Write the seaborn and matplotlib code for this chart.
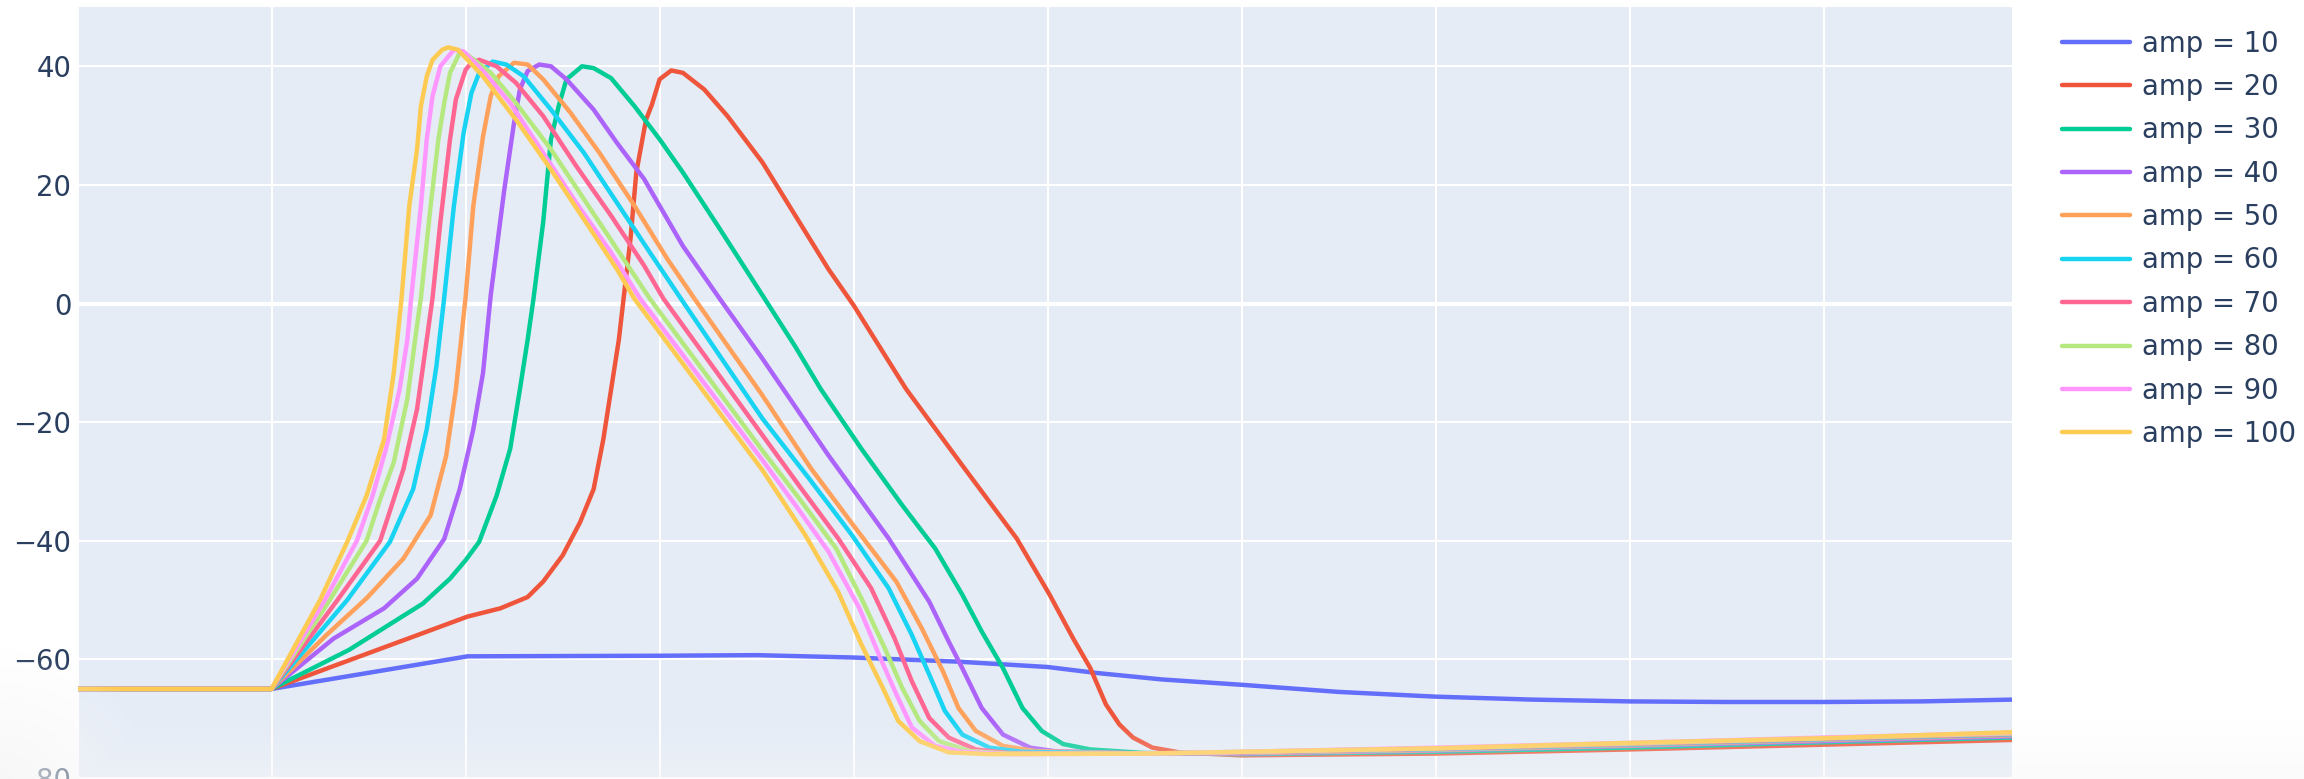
import matplotlib
matplotlib.use("Agg")
import matplotlib.pyplot as plt
import numpy as np
import pandas as pd
import seaborn as sns

# Membrane potential (mV) over time (ms) for a range of stimulus amplitudes
amplitudes = [10, 20, 30, 40, 50, 60, 70, 80, 90, 100]
colors = ["#636EFA", "#EF553B", "#00CC96", "#AB63FA", "#FFA15A",
          "#19D3F3", "#FF6692", "#B6E880", "#FF97FF", "#FECB52"]

t_amp10 = [0, 1, 2.01, 2.5, 3.0, 3.5, 4.0, 4.54, 5.0, 5.25, 5.59, 6.0, 6.5, 7.0,
           7.5, 8.0, 8.5, 9.0, 9.5, 9.97]
v_amp10 = [-65.0, -65.0, -59.5, -59.45, -59.4, -59.3, -59.7, -60.4, -61.3, -62.3,
           -63.4, -64.3, -65.5, -66.3, -66.8, -67.1, -67.2, -67.2, -67.1, -66.8]

t_amp20 = [0, 1, 2.01, 2.18, 2.32, 2.40, 2.50, 2.59, 2.66, 2.71, 2.75, 2.79, 2.82,
           2.85, 2.88, 2.93, 2.96, 3.00, 3.06, 3.12, 3.23, 3.35, 3.53, 3.70, 3.87,
           4.00, 4.13, 4.27, 4.56, 4.84, 5.01, 5.13, 5.22, 5.30, 5.37, 5.44, 5.54,
           5.68, 6.0, 7.0, 8.0, 9.0, 9.97]
v_amp20 = [-65.0, -65.0, -52.8, -51.4, -49.5, -46.9, -42.5, -36.9, -31.3, -22.9,
           -14.5, -6.1, 2.4, 10.9, 22.1, 31.0, 33.5, 37.8, 39.3, 38.9, 36.1, 31.6,
           23.8, 14.8, 5.8, -0.3, -7.1, -14.4, -27.3, -39.6, -49.1, -56.4, -61.5,
           -67.6, -71.0, -73.2, -74.9, -75.7, -76.2, -75.9, -75.2, -74.4, -73.6]

t_amp30 = [0, 1, 1.40, 1.78, 1.92, 2.0, 2.07, 2.16, 2.23, 2.28, 2.32, 2.35, 2.40,
           2.44, 2.48, 2.52, 2.60, 2.66, 2.75, 2.87, 3.00, 3.12, 3.30, 3.52, 3.70,
           3.83, 4.04, 4.25, 4.42, 4.56, 4.66, 4.77, 4.87, 4.97, 5.08, 5.22, 5.5,
           6.0, 7.0, 8.0, 9.0, 9.97]
v_amp30 = [-65.0, -65.0, -58.4, -50.6, -46.4, -43.3, -40.2, -32.4, -24.5, -14.5,
           -6.1, 0.8, 13.7, 27.7, 33.3, 37.8, 40.0, 39.7, 38.0, 33.3, 27.7, 22.1,
           13.1, 1.9, -7.3, -14.4, -24.5, -34.0, -41.3, -49.1, -55.3, -61.5, -68.2,
           -72.1, -74.3, -75.2, -75.8, -76.0, -75.6, -74.9, -74.0, -73.2]

t_amp40 = [0, 1, 1.32, 1.58, 1.75, 1.89, 1.97, 2.04, 2.09, 2.13, 2.20, 2.25, 2.28,
           2.32, 2.38, 2.44, 2.52, 2.66, 2.78, 2.92, 3.12, 3.31, 3.53, 3.67, 3.87,
           4.18, 4.39, 4.49, 4.56, 4.66, 4.77, 4.91, 5.04, 5.5, 6.0, 7.0, 8.0, 9.0,
           9.97]
v_amp40 = [-65.0, -65.0, -56.5, -51.4, -46.4, -39.7, -31.3, -21.2, -11.7, 1.5,
           19.3, 30.5, 36.1, 39.2, 40.3, 40.0, 37.8, 32.7, 27.1, 21.0, 9.7, 0.8,
           -9.3, -16.0, -25.6, -39.6, -50.3, -57.0, -61.5, -68.2, -72.7, -74.9,
           -75.5, -75.9, -75.9, -75.4, -74.6, -73.8, -73.0]

t_amp50 = [0, 1, 1.28, 1.49, 1.68, 1.82, 1.90, 1.95, 2.00, 2.04, 2.09, 2.13, 2.17,
           2.25, 2.32, 2.40, 2.54, 2.69, 2.87, 3.04, 3.18, 3.53, 3.78, 4.01, 4.22,
           4.35, 4.46, 4.54, 4.63, 4.77, 4.94, 5.5, 6.0, 7.0, 8.0, 9.0, 9.97]
v_amp50 = [-65.0, -65.0, -56.0, -49.7, -43.0, -35.7, -25.7, -14.5, 1.0, 16.5,
           28.2, 35.0, 38.3, 40.6, 40.3, 37.8, 32.2, 25.4, 16.5, 7.5, 0.8, -15.5,
           -27.8, -37.9, -46.9, -54.7, -62.0, -68.2, -72.1, -74.6, -75.5, -75.9,
           -75.8, -75.3, -74.5, -73.6, -72.8]

t_amp60 = [0, 1, 1.39, 1.61, 1.73, 1.80, 1.85, 1.89, 1.94, 1.99, 2.03, 2.07, 2.14,
           2.21, 2.30, 2.44, 2.61, 2.78, 2.95, 3.11, 3.53, 3.77, 3.99, 4.18, 4.30,
           4.39, 4.47, 4.56, 4.70, 4.87, 5.5, 6.0, 7.0, 8.0, 9.0, 9.97]
v_amp60 = [-65.0, -65.0, -50.0, -40.2, -31.3, -21.2, -10.5, 1.0, 16.5, 28.8,
           35.5, 38.9, 40.8, 40.3, 38.3, 32.7, 25.4, 17.0, 8.6, 0.8, -19.4, -29.5,
           -39.0, -48.0, -55.9, -62.6, -68.7, -72.7, -74.9, -75.6, -75.9, -75.7,
           -75.2, -74.4, -73.5, -72.7]

t_amp70 = [0, 1, 1.34, 1.56, 1.62, 1.68, 1.75, 1.80, 1.83, 1.87, 1.92, 1.95, 2.00,
           2.03, 2.07, 2.16, 2.26, 2.40, 2.57, 2.75, 2.92, 3.02, 3.53, 3.73, 3.92,
           4.09, 4.21, 4.30, 4.39, 4.49, 4.63, 4.8, 5.5, 6.0, 7.0, 8.0, 9.0, 9.97]
v_amp70 = [-65.0, -65.0, -50.0, -40.0, -34.0, -27.9, -17.8, -6.1, 1.0, 13.7,
           27.7, 34.4, 39.4, 40.6, 41.1, 40.0, 37.2, 31.6, 23.2, 14.8, 6.4, 0.8,
           -22.2, -31.2, -39.6, -48.0, -56.4, -63.7, -69.9, -73.2, -75.2, -75.8,
           -75.9, -75.7, -75.1, -74.3, -73.4, -72.6]

t_amp80 = [0, 1, 1.30, 1.49, 1.56, 1.63, 1.70, 1.74, 1.77, 1.82, 1.86, 1.89, 1.92,
           1.97, 2.02, 2.13, 2.26, 2.44, 2.61, 2.78, 2.95, 3.53, 3.72, 3.91, 4.04,
           4.16, 4.25, 4.34, 4.44, 4.60, 4.8, 5.5, 6.0, 7.0, 8.0, 9.0, 9.97]
v_amp80 = [-65.0, -65.0, -50.0, -40.0, -33.0, -26.8, -16.1, -6.1, 1.0, 16.5,
           27.7, 33.8, 38.9, 42.3, 41.7, 38.9, 33.8, 26.0, 17.6, 9.2, 0.8, -24.8,
           -32.9, -41.3, -49.7, -58.1, -64.8, -70.4, -73.8, -75.5, -75.9, -75.9,
           -75.6, -75.0, -74.2, -73.3, -72.5]

t_amp90 = [0, 1, 1.275, 1.44, 1.52, 1.59, 1.66, 1.70, 1.72, 1.77, 1.80, 1.83, 1.87,
           1.94, 1.99, 2.09, 2.23, 2.40, 2.57, 2.75, 2.90, 3.53, 3.70, 3.87, 4.03,
           4.13, 4.22, 4.30, 4.42, 4.56, 4.8, 5.5, 6.0, 7.0, 8.0, 9.0, 9.97]
v_amp90 = [-65.0, -65.0, -50.0, -40.0, -32.5, -24.5, -14.5, -6.1, 1.0, 16.5,
           27.7, 35.0, 40.0, 42.8, 42.5, 39.2, 33.8, 25.4, 17.0, 8.6, 0.8, -26.4,
           -34.0, -41.8, -51.4, -59.2, -65.9, -71.5, -74.6, -75.6, -76.0, -75.9,
           -75.6, -74.9, -74.1, -73.2, -72.4]

t_amp100 = [0, 1, 1.25, 1.39, 1.49, 1.58, 1.63, 1.67, 1.71, 1.75, 1.77, 1.80, 1.83,
            1.88, 1.91, 1.96, 2.01, 2.09, 2.26, 2.44, 2.61, 2.78, 2.87, 3.53, 3.75,
            3.92, 4.04, 4.15, 4.23, 4.34, 4.49, 4.70, 5.5, 6.0, 7.0, 8.0, 9.0, 9.97]
v_amp100 = [-65.0, -65.0, -50.0, -40.2, -32.4, -22.9, -11.7, 0.8, 16.5, 26.0,
            33.3, 38.3, 41.1, 42.8, 43.2, 42.8, 41.1, 38.3, 31.0, 22.6, 14.2, 5.8,
            0.8, -28.1, -39.0, -48.6, -57.5, -64.8, -70.4, -73.8, -75.7, -76.0,
            -75.9, -75.6, -75.0, -74.1, -73.3, -72.3]

y_ticks = [-80, -60, -40, -20, 0, 20, 40]
x_ticks = [0, 1, 2, 3, 4, 5, 6, 7, 8, 9]

times = [t_amp10, t_amp20, t_amp30, t_amp40, t_amp50,
         t_amp60, t_amp70, t_amp80, t_amp90, t_amp100]
volts = [v_amp10, v_amp20, v_amp30, v_amp40, v_amp50,
         v_amp60, v_amp70, v_amp80, v_amp90, v_amp100]
labels = [f"amp = {a}" for a in amplitudes]

df = pd.concat(
    [pd.DataFrame({"t": t, "v": v, "trace": lab})
     for t, v, lab in zip(times, volts, labels)],
    ignore_index=True,
)

TEXT = "#2a3f5f"
PLOT_BG = "#E5ECF6"
LW = 3.2

sns.set_style("white")
plt.rcParams["font.family"] = ["DejaVu Sans"]

W, H = 2304, 779
fig = plt.figure(figsize=(W / 100, H / 100), dpi=100, facecolor="white")

# axes placement in pixels: x 77.5..2012, y(50)=7, y(-90)=837 (below the canvas)
left, right = 77.5, 2012.0
top_px, bot_px = 7.0, 837.2
ax = fig.add_axes([left / W, 1 - bot_px / H, (right - left) / W, (bot_px - top_px) / H])
ax.set_facecolor(PLOT_BG)

sns.lineplot(data=df, x="t", y="v", hue="trace", hue_order=labels,
             palette=colors, estimator=None, sort=False, linewidth=LW,
             solid_joinstyle="round", solid_capstyle="round", ax=ax)

ax.set_xlim(0, 9.97)
ax.set_ylim(-90, 50)
ax.set_xticks(x_ticks)
ax.set_yticks(y_ticks)
ax.set_xticklabels([])
ax.set_xlabel("")
ax.set_ylabel("")
ax.grid(True, color="white", linewidth=1.5)
ax.set_axisbelow(True)
ax.axhline(0, color="white", linewidth=3.0, zorder=0.8)
for s in ax.spines.values():
    s.set_visible(False)
ax.tick_params(axis="both", length=0, pad=4.5, labelsize=19.8, labelcolor=TEXT)

handles, labs = ax.get_legend_handles_labels()
ax.get_legend().remove()
leg = fig.legend(handles, labs, loc="upper left", bbox_to_anchor=(2061.7 / W, 1 - 29.5 / H),
                 frameon=False, fontsize=19.8, handlelength=2.5, handletextpad=0.41,
                 labelspacing=0.56, borderpad=0, borderaxespad=0, labelcolor=TEXT)
for ln in leg.get_lines():
    ln.set_linewidth(LW)

# soft light wash along the bottom edge and in the lower-left corner
yy, xx = np.mgrid[0:H, 0:W].astype(float)
band = np.clip((yy - 720.0) / 59.0, 0, 1) * 0.45
corner = np.clip(1.0 - np.hypot(xx / 170.0, (H - yy) / 130.0), 0, 1) * 0.85
alpha = np.maximum(band, corner)
wash = np.zeros((H, W, 4))
wash[..., 0:3] = 0.965
wash[..., 3] = alpha
over = fig.add_axes([0, 0, 1, 1], zorder=10)
over.imshow(wash, aspect="auto", interpolation="bilinear")
over.set_axis_off()

fig.savefig("out.png", dpi=100, facecolor="white")
